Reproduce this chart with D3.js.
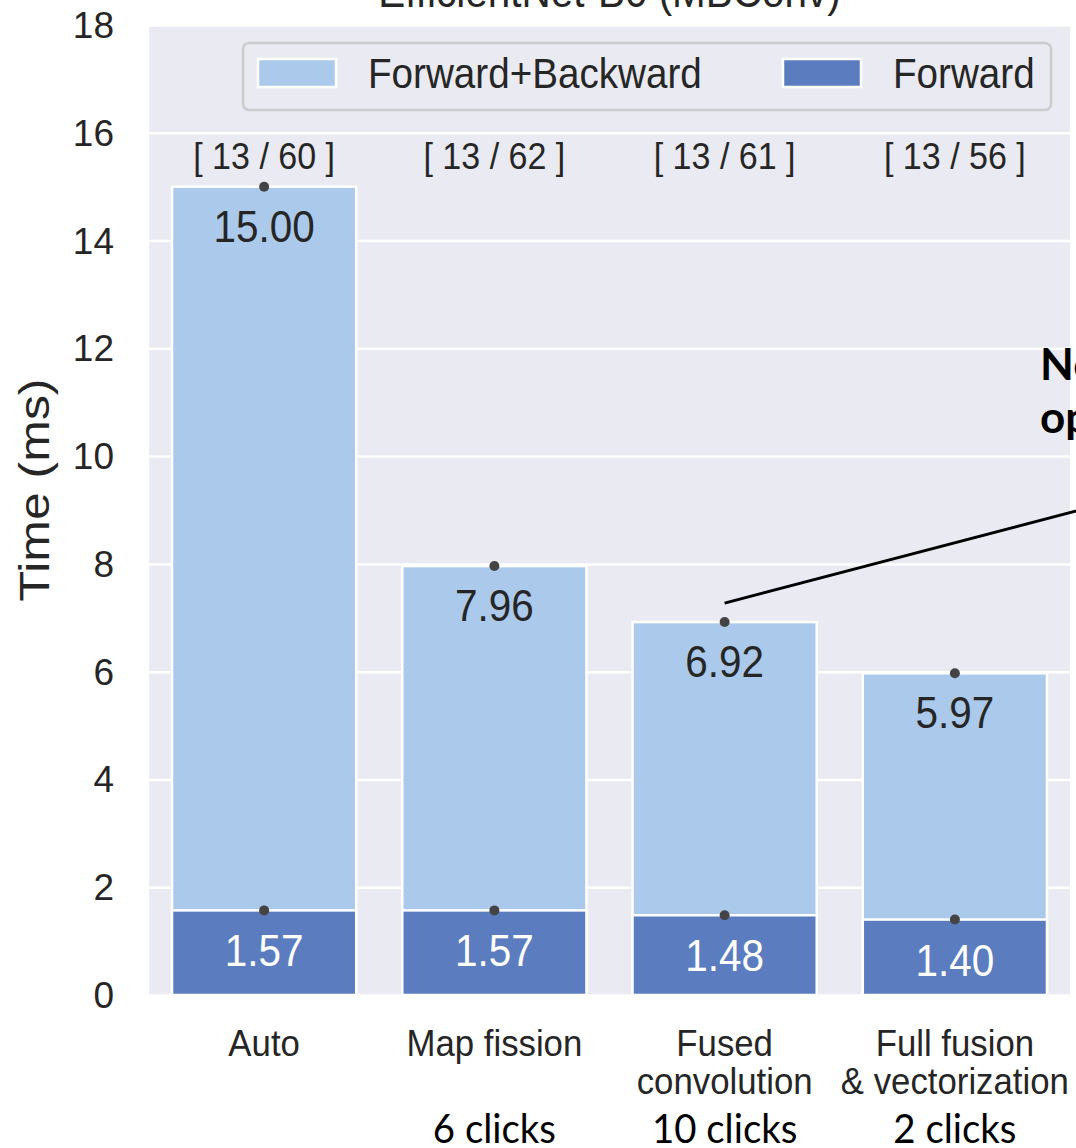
<!DOCTYPE html>
<html>
<head>
<meta charset="utf-8">
<script src="https://cdn.jsdelivr.net/npm/d3@7"></script>
<style>
  body { margin: 0; background: #ffffff; }
  svg { display: block; }
</style>
</head>
<body>
<div class="chart"></div>
<script>
// Data
var categories = ["Auto", "Map fission", "Fused convolution", "Full fusion & vectorization"];
var categoryLines = [["Auto"], ["Map fission"], ["Fused", "convolution"], ["Full fusion", "& vectorization"]];
var totalTimes = [15.00, 7.96, 6.92, 5.97];      // Forward+Backward
var forwardTimes = [1.57, 1.57, 1.48, 1.40];     // Forward
var counts = ["[ 13 / 60 ]", "[ 13 / 62 ]", "[ 13 / 61 ]", "[ 13 / 56 ]"];
var clicks = ["", "6 clicks", "10 clicks", "2 clicks"];
var yTicks = [0, 2, 4, 6, 8, 10, 12, 14, 16, 18];

var width = 1076, height = 1148;
var margin = { top: 25, right: 6, bottom: 153, left: 149 };
var SX = 0.92;   // the source picture is slightly squeezed horizontally

var lightBlue = "#abc9ea", darkBlue = "#5b7dbf", bg = "#eaeaf2", ink = "#262626";
var font = "'Liberation Sans', Arial, sans-serif";

var svg = d3.select("div.chart")
    .append("svg")
    .attr("width", width)
    .attr("height", height);

var x = d3.scaleBand()
    .domain(categories)
    .range([margin.left, width - margin.right])
    .paddingInner(0.2)
    .paddingOuter(0.1);
var y = d3.scaleLinear()
    .domain([0, 18])
    .range([height - margin.bottom, margin.top]);

var cx = d => x(d) + x.bandwidth() / 2;

// helper: text with a horizontal squeeze
function label(g, str, px, py, size, anchor, fill, weight, family, sx) {
    return g.append("text")
        .attr("transform", `translate(${px},${py}) scale(${sx || SX},1)`)
        .attr("text-anchor", anchor || "middle")
        .attr("fill", fill || ink)
        .style("font-family", family || font)
        .style("font-size", size + "px")
        .style("font-weight", weight || "normal")
        .text(str);
}

// plot background
svg.append("rect")
    .attr("x", margin.left)
    .attr("y", margin.top)
    .attr("width", width - margin.right - margin.left)
    .attr("height", y(0) - margin.top)
    .attr("fill", bg);

// horizontal white grid
svg.append("g")
    .attr("transform", `translate(${margin.left},0)`)
    .call(d3.axisRight(y).tickValues(yTicks).tickSize(width - margin.right - margin.left).tickFormat(""))
    .call(g => g.select(".domain").remove())
    .call(g => g.selectAll(".tick line")
        .attr("stroke", "white")
        .attr("stroke-width", 2.5));

// y tick labels
var yAxis = svg.append("g");
yTicks.forEach(function (t) {
    label(yAxis, t, 114, y(t) + 13, 37, "end", ink, "normal", font, 1);
});

// y axis title
svg.append("text")
    .attr("transform", `translate(49,${y(9) - 20}) rotate(-90) scale(1,0.85)`)
    .attr("text-anchor", "middle")
    .attr("fill", ink)
    .style("font-family", font)
    .style("font-size", "50px")
    .text("Time (ms)");

// title (cut off by the top edge)
label(svg, "EfficientNet-B0 (MBConv)", (margin.left + width - margin.right) / 2, 7, 44);

// Forward+Backward bars
svg.append("g")
    .selectAll("rect")
    .data(categories)
    .join("rect")
        .attr("x", d => x(d))
        .attr("y", (d, i) => y(totalTimes[i]))
        .attr("width", x.bandwidth())
        .attr("height", (d, i) => y(0) - y(totalTimes[i]))
        .attr("fill", lightBlue)
        .attr("stroke", "white")
        .attr("stroke-width", 2.5);

// Forward bars
svg.append("g")
    .selectAll("rect")
    .data(categories)
    .join("rect")
        .attr("x", d => x(d))
        .attr("y", (d, i) => y(forwardTimes[i]))
        .attr("width", x.bandwidth())
        .attr("height", (d, i) => y(0) - y(forwardTimes[i]))
        .attr("fill", darkBlue)
        .attr("stroke", "white")
        .attr("stroke-width", 2.5);

// dots at the bar tops
var dots = svg.append("g");
categories.forEach(function (c, i) {
    dots.append("circle").attr("cx", cx(c)).attr("cy", y(totalTimes[i])).attr("r", 5).attr("fill", "#444");
    dots.append("circle").attr("cx", cx(c)).attr("cy", y(forwardTimes[i])).attr("r", 5).attr("fill", "#444");
});

// value labels
var vals = svg.append("g");
categories.forEach(function (c, i) {
    label(vals, totalTimes[i].toFixed(2), cx(c), y(totalTimes[i]) + 55, 44);
    label(vals, forwardTimes[i].toFixed(2), cx(c), y(forwardTimes[i]) + 56, 44, "middle", "white");
    label(vals, counts[i], cx(c), 169, 37);
});

// category labels
var cats = svg.append("g");
categories.forEach(function (c, i) {
    categoryLines[i].forEach(function (line, j) {
        label(cats, line, cx(c), 1056 + j * 38, 37, "middle", ink, "normal", font, 0.94);
    });
    if (clicks[i]) {
        label(cats, clicks[i], cx(c), 1143, 40, "middle", "#000", "normal", "Lato, 'Open Sans', sans-serif", 0.96);
    }
});

// legend
var legend = svg.append("g");
legend.append("rect")
    .attr("x", 243).attr("y", 43)
    .attr("width", 808).attr("height", 67)
    .attr("rx", 6)
    .attr("fill", bg).attr("fill-opacity", 0.8)
    .attr("stroke", "#cccccc").attr("stroke-width", 2.5);
[["Forward+Backward", lightBlue, 258], ["Forward", darkBlue, 783]].forEach(function (item) {
    legend.append("rect")
        .attr("x", item[2]).attr("y", 59)
        .attr("width", 78).attr("height", 28)
        .attr("fill", item[1])
        .attr("stroke", "white").attr("stroke-width", 2.5);
    label(legend, item[0], item[2] + 110, 88, 42, "start");
});

// annotation arrow + text (runs off the right edge)
svg.append("line")
    .attr("x1", cx(categories[2]))
    .attr("y1", y(totalTimes[2]) - 19)
    .attr("x2", cx(categories[2]) + 420)
    .attr("y2", y(totalTimes[2]) - 19 - 110)
    .attr("stroke", "black")
    .attr("stroke-width", 3);
label(svg, "No", 1040, 380, 44, "start", "#000", "bold", "Lato, 'Open Sans', sans-serif", 1);
label(svg, "op", 1040, 433, 44, "start", "#000", "bold", "Lato, 'Open Sans', sans-serif", 1);
</script>
</body>
</html>
